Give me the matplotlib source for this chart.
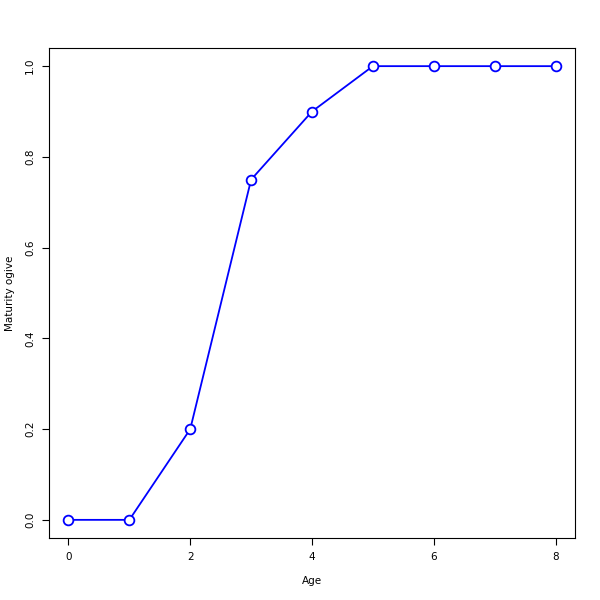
import matplotlib
matplotlib.use("Agg")
import matplotlib.pyplot as plt

ages = [0, 1, 2, 3, 4, 5, 6, 7, 8]
maturity = [0.0, 0.0, 0.2, 0.75, 0.9, 1.0, 1.0, 1.0, 1.0]

fig = plt.figure(figsize=(6, 6), dpi=100)
ax = fig.add_axes([49/600, 1 - 538/600, (575-49)/600, (538-48)/600])

ax.plot(ages, maturity, color="blue", linewidth=1.3, marker="o",
        markersize=7, markerfacecolor="white", markeredgecolor="blue",
        markeredgewidth=1.3)

ax.set_xlim(-0.32, 8.32)
ax.set_ylim(-0.04, 1.04)
ax.set_xticks([0, 2, 4, 6, 8])
ax.set_yticks([0.0, 0.2, 0.4, 0.6, 0.8, 1.0])
ax.set_yticklabels(["0.0", "0.2", "0.4", "0.6", "0.8", "1.0"], rotation=90, va="center")
ax.tick_params(labelsize=7.5, length=5, direction="out", pad=5)

ax.set_xlabel("Age", fontsize=7.5, labelpad=10)
ax.set_ylabel("Maturity ogive", fontsize=7.5, labelpad=7)

for s in ax.spines.values():
    s.set_linewidth(0.8)

fig.savefig("out.png", dpi=100, facecolor="white")
